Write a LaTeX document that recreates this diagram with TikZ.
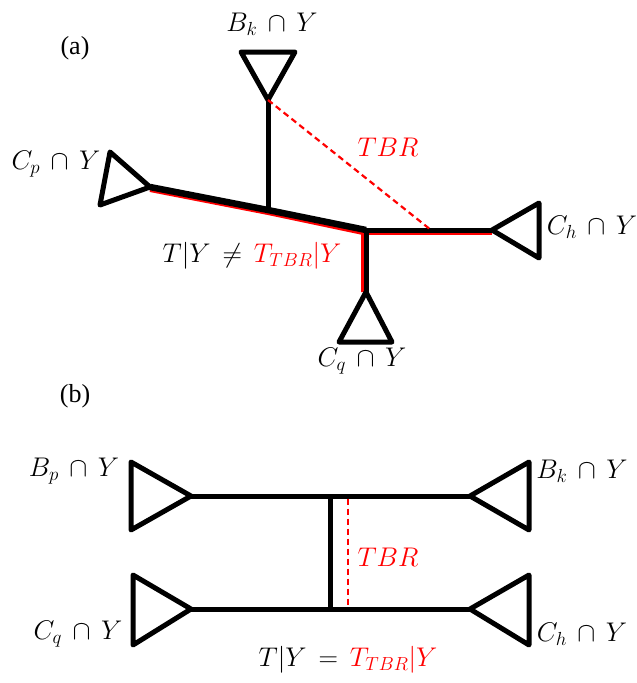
\RequirePackage{fix-cm}
\documentclass[tikz,border=0pt]{standalone}
\usepackage{fontspec}
\setmainfont{Liberation Serif}
\begin{document}
\begin{tikzpicture}[x=1pt, y=-1pt,
    tri/.style={line width=5pt, line join=round},
    edge/.style={line width=5pt},
    mainedge/.style={line width=6.5pt},
    redline/.style={red, line width=4pt},
    tbrline/.style={red, dashed, line width=2.2pt, dash pattern=on 6pt off 4pt},
    tag/.style={font=\fontsize{26}{30}\selectfont, inner sep=0pt},
    lbl/.style={font=\fontsize{27}{32}\selectfont, inner sep=0pt},
    ]
    \useasboundingbox (0,0) rectangle (637,683);

    % (a) -- tree before the move
    \node[tag] (tagA) at (75,48) {(a)};

    % Inner vertices
    \coordinate (u) at (268,210);
    \coordinate (v) at (366,230);
    \coordinate (h) at (431,230);

    % Subtree B_k (top)
    \coordinate (bkTip) at (268,100);
    \coordinate (bkL) at (241,52);
    \coordinate (bkR) at (295,52);
    \node[lbl] (bkLabel) at (272,24) {$B_k \,\cap\, Y$};

    % Subtree C_p (left)
    \coordinate (cpTip) at (150,187);
    \coordinate (cpT) at (110,152);
    \coordinate (cpB) at (100,205);
    \node[lbl] (cpLabel) at (56,164) {$C_p \,\cap\, Y$};

    % Subtree C_h (right)
    \coordinate (chTip) at (492,230);
    \coordinate (chT) at (539,203);
    \coordinate (chB) at (539,258);
    \node[lbl] (chLabel) at (592,227) {$C_h \,\cap\, Y$};

    % Subtree C_q (bottom)
    \coordinate (cqTip) at (366,292);
    \coordinate (cqL) at (339,342);
    \coordinate (cqR) at (392,342);
    \node[lbl] (cqLabel) at (362,361) {$C_q \,\cap\, Y$};

    % Red path of T_TBR|Y, just under the black edges
    \draw[redline] ([yshift=-3pt]cpTip) -- ([yshift=-3pt]u) -- ([shift={(-3pt,-3pt)}]v) -- ([xshift=-3pt]cqTip);
    \draw[redline] ([yshift=-3pt]v) -- ([yshift=-3pt]chTip);

    % Edges of T|Y
    \draw[mainedge] (cpTip) -- (u) -- (v);
    \draw[edge] (bkTip) -- (u);
    \draw[edge] (v) -- (chTip);
    \draw[edge] (v) -- (cqTip);

    % Triangles
    \draw[tri] (bkTip) -- (bkL) -- (bkR) -- cycle;
    \draw[tri] (cpTip) -- (cpT) -- (cpB) -- cycle;
    \draw[tri] (chTip) -- (chT) -- (chB) -- cycle;
    \draw[tri] (cqTip) -- (cqL) -- (cqR) -- cycle;

    % TBR move
    \draw[tbrline] (bkTip) -- (h);
    \node[lbl, red] (tbrA) at (388,147) {$TBR$};
    \node[lbl] (eqA) at (252,256) {$T\big|Y \,\neq\, {\color{red}T_{TBR}\big|Y}$};

    % (b) -- tree after the move
    \node[tag] (tagB) at (75,396) {(b)};

    \coordinate (p) at (330,496);
    \coordinate (q) at (330,609);
    \coordinate (p2) at (348,496);
    \coordinate (q2) at (348,609);

    % Subtree B_p
    \coordinate (bpTip) at (191,496);
    \coordinate (bpT) at (131,462);
    \coordinate (bpB) at (131,530);
    \node[lbl] (bpLabel) at (74,471) {$B_p \,\cap\, Y$};

    % Subtree B_k
    \coordinate (bkTipB) at (470,496);
    \coordinate (bkTB) at (529,462);
    \coordinate (bkBB) at (529,530);
    \node[lbl] (bkLabelB) at (582,471) {$B_k \,\cap\, Y$};

    % Subtree C_q
    \coordinate (cqTipB) at (191,609);
    \coordinate (cqTB) at (133,575);
    \coordinate (cqBB) at (133,645);
    \node[lbl] (cqLabelB) at (78,634) {$C_q \,\cap\, Y$};

    % Subtree C_h
    \coordinate (chTipB) at (470,609);
    \coordinate (chTB) at (529,575);
    \coordinate (chBB) at (529,645);
    \node[lbl] (chLabelB) at (582,634) {$C_h \,\cap\, Y$};

    % Edges
    \draw[edge] (bpTip) -- (bkTipB);
    \draw[edge] (cqTipB) -- (chTipB);
    \draw[edge] (p) -- (q);

    % Triangles
    \draw[tri] (bpTip) -- (bpT) -- (bpB) -- cycle;
    \draw[tri] (bkTipB) -- (bkTB) -- (bkBB) -- cycle;
    \draw[tri] (cqTipB) -- (cqTB) -- (cqBB) -- cycle;
    \draw[tri] (chTipB) -- (chTB) -- (chBB) -- cycle;

    % TBR move
    \draw[tbrline] ([yshift=-2.5pt]p2) -- ([yshift=2.5pt]q2);
    \node[lbl, red] (tbrB) at (388,557) {$TBR$};
    \node[lbl] (eqB) at (348,660) {$T\big|Y \,=\, {\color{red}T_{TBR}\big|Y}$};
\end{tikzpicture}
\end{document}
